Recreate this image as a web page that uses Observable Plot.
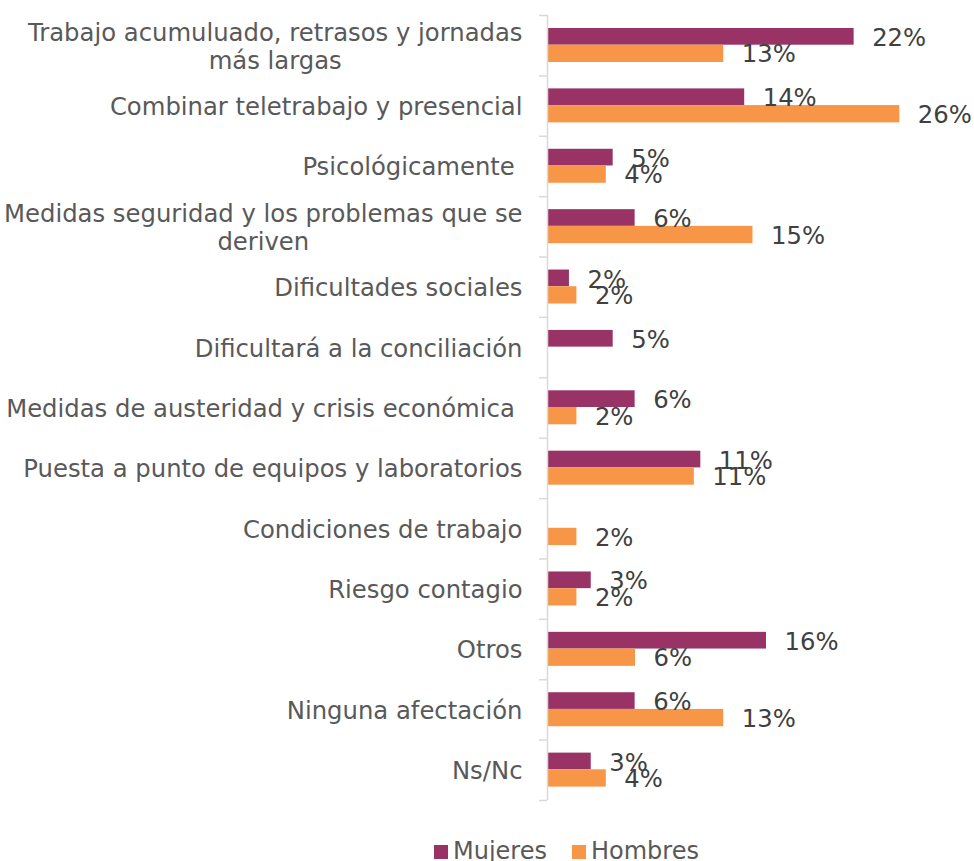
<!DOCTYPE html>
<html>
<head>
<meta charset="utf-8">
<script src="https://cdn.jsdelivr.net/npm/d3@7"></script>
<script src="https://cdn.jsdelivr.net/npm/@observablehq/plot@0.6"></script>
<style>
  body { margin: 0; background: white; }
  #chart svg { display: block; }
  svg text { white-space: pre; }
  #legend { position: relative; height: 28px; margin-top: 7px; font: 24px "DejaVu Sans", Verdana, sans-serif; line-height: 28px; color: #595959; white-space: nowrap; }
  #legend .item { display: inline-block; }
  #legend .sw { display: inline-block; width: 14px; height: 14px; margin-right: 5px; vertical-align: baseline; }
</style>
</head>
<body>
<div id="chart"></div>
<div id="legend"></div>
<script>
const categories = [
  "Trabajo acumuluado, retrasos y jornadas\nmás largas",
  "Combinar teletrabajo y presencial",
  "Psicológicamente ",
  "Medidas seguridad y los problemas que se\nderiven",
  "Dificultades sociales",
  "Dificultará a la conciliación",
  "Medidas de austeridad y crisis económica ",
  "Puesta a punto de equipos y laboratorios",
  "Condiciones de trabajo",
  "Riesgo contagio",
  "Otros",
  "Ninguna afectación",
  "Ns/Nc"
];
const series = ["Mujeres", "Hombres"];
const colors = ["#993366", "#F79646"];
const mujeres = [22.22, 14.29, 4.76, 6.35, 1.59, 4.76, 6.35, 11.11, 0, 3.17, 15.87, 6.35, 3.17];
const hombres = [12.77, 25.53, 4.26, 14.89, 2.13, 0, 2.13, 10.64, 2.13, 2.13, 6.38, 12.77, 4.26];

const data = [];
categories.forEach((c, i) => {
  data.push({cat: c, serie: series[0], value: mujeres[i]});
  data.push({cat: c, serie: series[1], value: hombres[i]});
});
const dM = data.filter(d => d.serie === series[0]);
const dH = data.filter(d => d.serie === series[1]);

const W = 974, H = 830, ML = 547, MR = 13, MT = 15, MB = 30;
const bw = (H - MT - MB) / categories.length;
const pxPer = (W - ML - MR) / 30;
const tickLen = 8 / pxPer;
const fmt = v => Math.round(v) + "%";

const chart = Plot.plot({
  width: W, height: H,
  marginLeft: ML, marginRight: MR, marginTop: MT, marginBottom: MB,
  style: {fontFamily: "'DejaVu Sans', Verdana, sans-serif", fontSize: "24px", background: "white", overflow: "visible"},
  x: {domain: [0, 30], axis: null},
  y: {domain: categories, padding: 0, round: false},
  marks: [
    Plot.axisY({tickSize: 0, tickPadding: 25, fontSize: 24.3, lineHeight: 1.15, fill: "#595959", label: null}),
    Plot.barX(dM, {x: "value", y: "cat", fill: colors[0], insetTop: 13, insetBottom: bw - 29.7}),
    Plot.barX(dH, {x: "value", y: "cat", fill: colors[1], insetTop: 29.7, insetBottom: bw - 47}),
    Plot.ruleX([0], {stroke: "#d9d9d9", strokeWidth: 1.5}),
    Plot.ruleY(categories, {y: d => d, x1: -tickLen, x2: 0, dy: -bw / 2, stroke: "#d9d9d9", strokeWidth: 1.5}),
    Plot.ruleY(categories.slice(-1), {y: d => d, x1: -tickLen, x2: 0, dy: bw / 2, stroke: "#d9d9d9", strokeWidth: 1.5}),
    Plot.text(dM.filter(d => d.value > 0), {x: "value", y: "cat", text: d => fmt(d.value), dx: 18, dy: -7.5, textAnchor: "start", fill: "#404040", fontSize: 24.3}),
    Plot.text(dH.filter(d => d.value > 0), {x: "value", y: "cat", text: d => fmt(d.value), dx: 18, dy: 9, textAnchor: "start", fill: "#404040", fontSize: 24.3})
  ]
});
document.getElementById("chart").append(chart);

// center the lines of wrapped category labels relative to each other
chart.querySelectorAll('g[aria-label="y-axis tick label"] text').forEach(t => {
  const spans = t.querySelectorAll("tspan");
  if (spans.length > 1) {
    const w = Math.max(...[...spans].map(s => s.getComputedTextLength()));
    t.setAttribute("text-anchor", "middle");
    spans.forEach(s => s.setAttribute("x", -w / 2));
  }
});

// legend
const legend = document.getElementById("legend");
const inner = document.createElement("div");
inner.style.position = "absolute";
inner.style.left = "434px";
inner.style.top = "0";
series.forEach((s, i) => {
  const item = document.createElement("span");
  item.className = "item";
  if (i > 0) item.style.marginLeft = "25px";
  const sw = document.createElement("span");
  sw.className = "sw";
  sw.style.background = colors[i];
  item.append(sw, document.createTextNode(s));
  inner.append(item);
});
legend.append(inner);
</script>
</body>
</html>
